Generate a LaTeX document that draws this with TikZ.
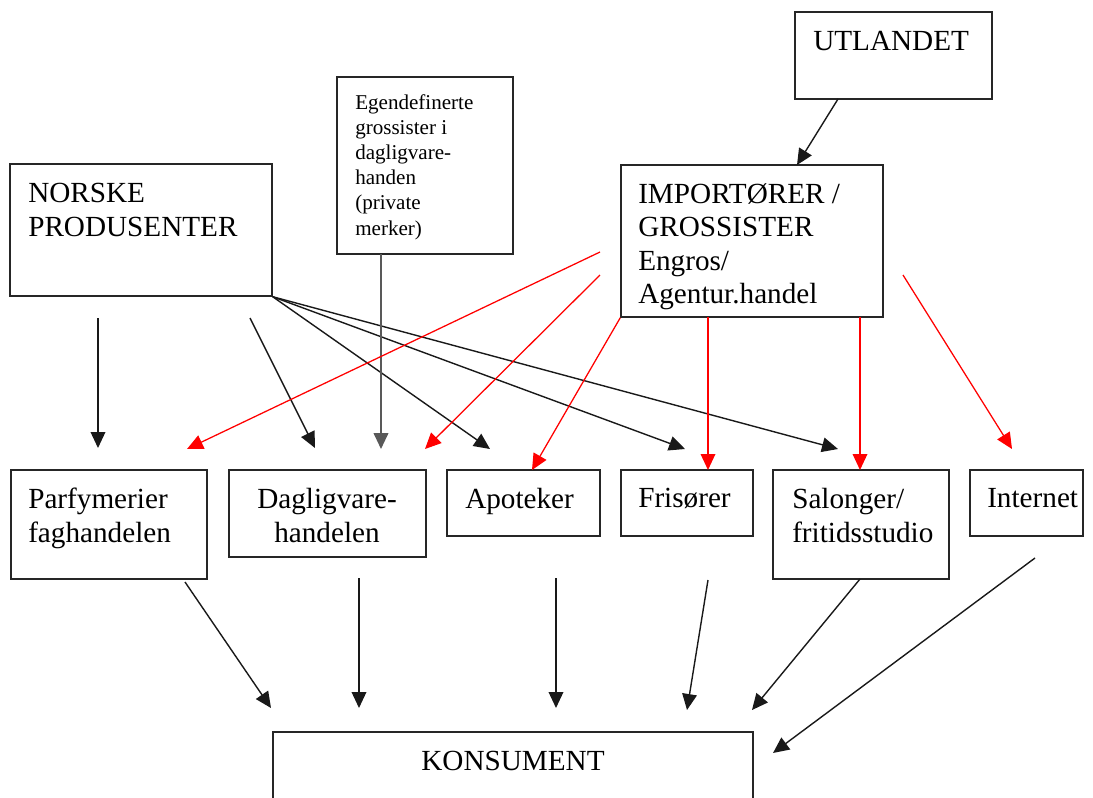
\documentclass[tikz,border=0pt]{standalone}
\usepackage{fontspec}
\setmainfont{Liberation Serif}
\usetikzlibrary{arrows.meta,fit}
\begin{document}
\begin{tikzpicture}[x=0.75pt,y=-0.75pt,
  box/.style={draw=black!85,line width=1.1pt,inner sep=0pt},
  txt/.style={inner sep=0pt,anchor=north west,align=left,font=\fontsize{21.9}{25.2}\selectfont},
  smalltxt/.style={inner sep=0pt,anchor=north west,align=left,font=\fontsize{15.8}{18.9}\selectfont},
  blk/.style={-{Triangle[length=12pt,width=11pt]},line width=1.05pt,black!90},
  grayarr/.style={-{Triangle[length=12pt,width=11pt]},line width=1.4pt,black!65},
  redarr/.style={-{Triangle[length=12pt,width=11pt]},line width=0.95pt,red}]
\useasboundingbox (0,0) rectangle (1093,797);
\clip (0,0) rectangle (1093,797);
% boxes
\node[box, fit={(795,12) (992,99)}] (utl) {};
\node[box, fit={(10,164) (272,296)}] (nor) {};
\node[box, fit={(337,77) (513,254)}] (egen) {};
\node[box, fit={(621,165) (883,317)}] (imp) {};
\node[box, fit={(11,470) (207,579)}] (par) {};
\node[box, fit={(229,470) (426,557)}] (dag) {};
\node[box, fit={(447,470) (600,536)}] (apo) {};
\node[box, fit={(621,470) (753,536)}] (fri) {};
\node[box, fit={(773,470) (949,579)}] (sal) {};
\node[box, fit={(970,470) (1083,536)}] (int) {};
\node[box, fit={(273,732) (753,820)}] (kon) {};
% texts
\node[txt] (tutl) at (813,31) {UTLANDET};
\node[txt] (tnor) at (28,183) {NORSKE\\PRODUSENTER};
\node[txt] (timp) at (638,183) {IMPORTØRER /\\GROSSISTER\\Engros/\\Agentur.handel};
\node[smalltxt] (tegen) at (355,94) {Egendefinerte\\grossister i\\dagligvare-\\handen\\(private\\merker)};
\node[txt] (tpar) at (28,488) {Parfymerier\\faghandelen};
\node[txt,anchor=north,align=center] (tdag) at (327,488) {Dagligvare-\\handelen};
\node[txt] (tapo) at (465,488) {Apoteker};
\node[txt] (tfri) at (638,488) {Frisører};
\node[txt] (tsal) at (792,488) {Salonger/\\fritidsstudio};
\node[txt] (tint) at (987,488) {Internet};
\node[txt,anchor=north] (tkon) at (513,751) {KONSUMENT};
% free connector ends
\coordinate (u1) at (838,99);
\coordinate (i1) at (797,165);
\coordinate (n1s) at (98,318);
\coordinate (n1e) at (98,448);
\coordinate (n2s) at (250,318);
\coordinate (n2e) at (315,448);
\coordinate (n3e) at (490,449);
\coordinate (n4e) at (685,449);
\coordinate (n5e) at (838,449);
\coordinate (e1) at (381,254);
\coordinate (e1e) at (381,449);
\coordinate (r1s) at (600,252);
\coordinate (r1e) at (187,449);
\coordinate (r2s) at (600,275);
\coordinate (r2e) at (425,449);
\coordinate (r3e) at (532,470);
\coordinate (r4s) at (708,317);
\coordinate (r4e) at (708,470);
\coordinate (r5s) at (860,317);
\coordinate (r5e) at (860,470);
\coordinate (r6s) at (903,275);
\coordinate (r6e) at (1012,449);
\coordinate (b1s) at (185,582);
\coordinate (b1e) at (271,708);
\coordinate (b2s) at (359,578);
\coordinate (b2e) at (359,708);
\coordinate (b3s) at (556,578);
\coordinate (b3e) at (556,708);
\coordinate (b4s) at (708,580);
\coordinate (b4e) at (687,710);
\coordinate (b5s) at (860,579);
\coordinate (b5e) at (752,710);
\coordinate (b6s) at (1035,558);
\coordinate (b6e) at (773,753);
% black connectors
\draw[blk] (u1) -- (i1);
\draw[blk] (n1s) -- (n1e);
\draw[blk] (n2s) -- (n2e);
\draw[blk] (nor.south east) -- (n3e);
\draw[blk] (nor.south east) -- (n4e);
\draw[blk] (nor.south east) -- (n5e);
\draw[grayarr] (e1) -- (e1e);
% red connectors
\draw[redarr] (r1s) -- (r1e);
\draw[redarr] (r2s) -- (r2e);
\draw[redarr] (imp.south west) -- (r3e);
\draw[redarr] (r4s) -- (r4e);
\draw[redarr] (r5s) -- (r5e);
\draw[redarr] (r6s) -- (r6e);
% to consumer
\draw[blk] (b1s) -- (b1e);
\draw[blk] (b2s) -- (b2e);
\draw[blk] (b3s) -- (b3e);
\draw[blk] (b4s) -- (b4e);
\draw[blk] (b5s) -- (b5e);
\draw[blk] (b6s) -- (b6e);
\end{tikzpicture}
\end{document}
